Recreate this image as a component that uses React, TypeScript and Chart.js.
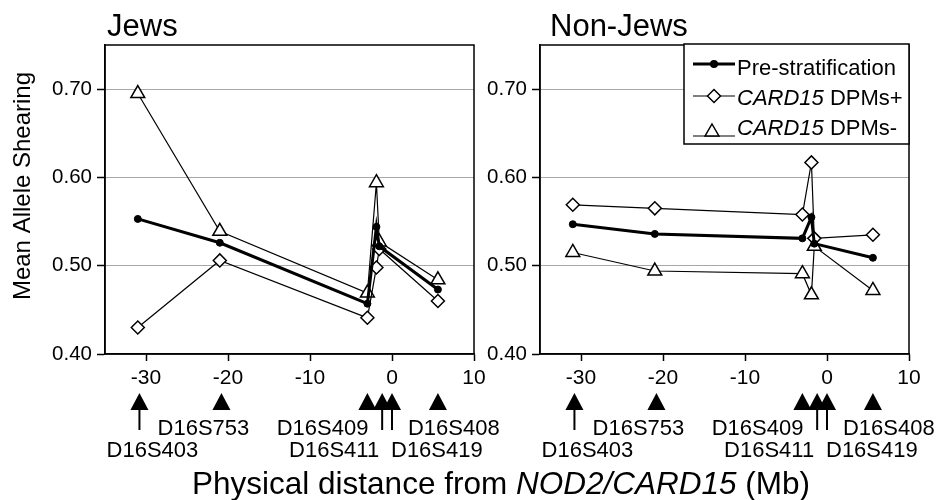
import React, { useEffect, useRef } from 'react';
import { Chart, registerables } from 'chart.js';

Chart.register(...registerables);

const FONT = '"Liberation Sans", Arial, Helvetica, sans-serif';

// ---- data ----
const xPositions = [-31, -21, -3, -1.9, -1.55, 5.6];

const jewsPre = [0.553, 0.526, 0.457, 0.544, 0.522, 0.473];
const jewsPlus = [0.43, 0.506, 0.441, 0.498, 0.519, 0.46];
const jewsMinus = [0.695, 0.539, 0.469, 0.594, 0.527, 0.484];

const nonJewsPre = [0.547, 0.536, 0.531, 0.555, 0.525, 0.509];
const nonJewsPlus = [0.569, 0.565, 0.558, 0.617, 0.531, 0.535];
const nonJewsMinus = [0.515, 0.494, 0.491, 0.467, 0.522, 0.472];

const markerNames = ['D16S403', 'D16S753', 'D16S409', 'D16S411', 'D16S419', 'D16S408'];
const markerPositions = [-30.8, -20.8, -3, -1.2, 0, 5.6];
const markerArrows = [true, false, false, true, true, false];

const xTicks = [-30, -20, -10, 0, 10];
const yTicks = [0.4, 0.5, 0.6, 0.7];

const seriesNames = ['Pre-stratification', 'CARD15 DPMs+', 'CARD15 DPMs-'];
const panelTitles = ['Jews', 'Non-Jews'];
const yTitle = 'Mean Allele Shearing';
const xTitleParts = ['Physical distance from ', 'NOD2/CARD15', ' (Mb)'];

// ---- layout (pixels) ----
const W = 938;
const H = 500;
const labelLayout = [
  { row: 1, align: 'center', dx: 13 },
  { row: 0, align: 'center', dx: -18 },
  { row: 0, align: 'right', dx: 1 },
  { row: 1, align: 'right', dx: -3 },
  { row: 1, align: 'left', dx: -1 },
  { row: 0, align: 'left', dx: -30 },
];

type Panel = {
  title: string;
  titleDx: number;
  pre: number[];
  plus: number[];
  minus: number[];
  padding: { left: number; right: number; top: number; bottom: number };
  yWidth: number;
  legend: boolean;
  axisTitles: boolean;
};

function triPath(ctx: CanvasRenderingContext2D, x: number, y: number, r: number) {
  ctx.beginPath();
  ctx.moveTo(x, y - r);
  ctx.lineTo(x + 0.866 * r, y + 0.5 * r);
  ctx.lineTo(x - 0.866 * r, y + 0.5 * r);
  ctx.closePath();
}
function diamondPath(ctx: CanvasRenderingContext2D, x: number, y: number, r: number) {
  ctx.beginPath();
  ctx.moveTo(x - r, y);
  ctx.lineTo(x, y - r);
  ctx.lineTo(x + r, y);
  ctx.lineTo(x, y + r);
  ctx.closePath();
}

function drawRich(ctx: CanvasRenderingContext2D, parts: { t: string; italic: boolean }[], size: number, x: number, y: number, center: boolean) {
  let total = 0;
  const widths = parts.map((p) => {
    ctx.font = `${p.italic ? 'italic ' : ''}${size}px ${FONT}`;
    const w = ctx.measureText(p.t).width;
    total += w;
    return w;
  });
  let cx = center ? x - total / 2 : x;
  parts.forEach((p, i) => {
    ctx.font = `${p.italic ? 'italic ' : ''}${size}px ${FONT}`;
    ctx.fillText(p.t, cx, y);
    cx += widths[i];
  });
}

function decorPlugin(panel: Panel) {
  return {
    id: 'panelDecor',
    afterDatasetsDraw(chart: any) {
      const { ctx, chartArea: a } = chart;
      ctx.save();
      // frame
      ctx.strokeStyle = '#000';
      ctx.lineWidth = 1.5;
      ctx.strokeRect(a.left, a.top, a.right - a.left, a.bottom - a.top);
      if (panel.legend) {
        const L = a.right - 225;
        const T = a.top - 1;
        ctx.fillStyle = '#fff';
        ctx.fillRect(L, T, 225, 100);
        ctx.strokeRect(L, T, 225, 100);
        ctx.fillStyle = '#000';
        ctx.strokeStyle = '#000';
        // row 1
        ctx.lineWidth = 3;
        ctx.beginPath();
        ctx.moveTo(L + 9, T + 20);
        ctx.lineTo(L + 51, T + 20);
        ctx.stroke();
        ctx.beginPath();
        ctx.arc(L + 30, T + 20, 4, 0, Math.PI * 2);
        ctx.fill();
        // row 2
        ctx.lineWidth = 1.2;
        ctx.beginPath();
        ctx.moveTo(L + 9, T + 52);
        ctx.lineTo(L + 51, T + 52);
        ctx.stroke();
        ctx.lineWidth = 1.5;
        diamondPath(ctx, L + 30, T + 52, 6.5);
        ctx.fillStyle = '#fff';
        ctx.fill();
        ctx.stroke();
        // row 3
        ctx.lineWidth = 1.2;
        ctx.beginPath();
        ctx.moveTo(L + 9, T + 92);
        ctx.lineTo(L + 51, T + 92);
        ctx.stroke();
        ctx.lineWidth = 1.5;
        triPath(ctx, L + 28, T + 88, 8);
        ctx.fill();
        ctx.stroke();
        // text
        ctx.fillStyle = '#000';
        ctx.textAlign = 'left';
        ctx.textBaseline = 'alphabetic';
        const [n1, n2, n3] = seriesNames;
        drawRich(ctx, [{ t: n1, italic: false }], 22, L + 53, T + 31, false);
        const sp2 = n2.indexOf(' ');
        drawRich(ctx, [{ t: n2.slice(0, sp2), italic: true }, { t: n2.slice(sp2), italic: false }], 22, L + 53, T + 61, false);
        const sp3 = n3.indexOf(' ');
        drawRich(ctx, [{ t: n3.slice(0, sp3), italic: true }, { t: n3.slice(sp3), italic: false }], 22, L + 53, T + 90.5, false);
      }
      ctx.restore();
    },
    afterDraw(chart: any) {
      const { ctx, chartArea: a, scales } = chart;
      const x = scales.x;
      ctx.save();
      ctx.fillStyle = '#000';
      ctx.strokeStyle = '#000';
      // panel title
      ctx.textAlign = 'left';
      ctx.textBaseline = 'alphabetic';
      ctx.font = `31px ${FONT}`;
      ctx.fillText(panel.title, a.left + panel.titleDx, 36);
      // marker annotations
      const b = a.bottom;
      markerNames.forEach((name, i) => {
        const px = x.getPixelForValue(markerPositions[i]);
        ctx.beginPath();
        ctx.moveTo(px, b + 39);
        ctx.lineTo(px + 9, b + 56);
        ctx.lineTo(px - 9, b + 56);
        ctx.closePath();
        ctx.fill();
        if (markerArrows[i]) {
          ctx.lineWidth = 2;
          ctx.beginPath();
          ctx.moveTo(px, b + 55);
          ctx.lineTo(px, b + 76);
          ctx.stroke();
        }
        const lay = labelLayout[i];
        ctx.font = `22px ${FONT}`;
        ctx.textAlign = lay.align as CanvasTextAlign;
        ctx.fillText(name, px + lay.dx, b + (lay.row === 0 ? 81 : 103));
      });
      if (panel.axisTitles) {
        // y title
        ctx.save();
        ctx.translate(23, 186);
        ctx.rotate(-Math.PI / 2);
        ctx.textAlign = 'center';
        ctx.textBaseline = 'middle';
        ctx.font = `24px ${FONT}`;
        ctx.fillText(yTitle, 0, 0);
        ctx.restore();
        // x title
        ctx.textAlign = 'left';
        ctx.textBaseline = 'alphabetic';
        drawRich(
          ctx,
          [
            { t: xTitleParts[0], italic: false },
            { t: xTitleParts[1], italic: true },
            { t: xTitleParts[2], italic: false },
          ],
          31.5,
          501,
          494,
          true
        );
      }
      ctx.restore();
    },
  };
}

function makeConfig(panel: Panel): any {
  const pts = (arr: number[]) => xPositions.map((xv, i) => ({ x: xv, y: arr[i] }));
  return {
    type: 'line',
    data: {
      datasets: [
        {
          label: seriesNames[0],
          data: pts(panel.pre),
          borderColor: '#000',
          borderWidth: 3,
          pointStyle: 'circle',
          pointRadius: 3.5,
          pointBackgroundColor: '#000',
          pointBorderColor: '#000',
          pointBorderWidth: 1,
          tension: 0,
        },
        {
          label: seriesNames[1],
          data: pts(panel.plus),
          borderColor: '#000',
          borderWidth: 1.2,
          pointStyle: 'rectRot',
          pointRadius: 6.5,
          pointBackgroundColor: '#fff',
          pointBorderColor: '#000',
          pointBorderWidth: 1.5,
          tension: 0,
        },
        {
          label: seriesNames[2],
          data: pts(panel.minus),
          borderColor: '#000',
          borderWidth: 1.2,
          pointStyle: 'triangle',
          pointRadius: 8,
          pointBackgroundColor: '#fff',
          pointBorderColor: '#000',
          pointBorderWidth: 1.5,
          tension: 0,
        },
      ],
    },
    options: {
      responsive: false,
      animation: false,
      events: [],
      layout: { autoPadding: false, padding: panel.padding },
      plugins: {
        legend: { display: false },
        tooltip: { enabled: false },
        title: { display: false },
      },
      scales: {
        x: {
          type: 'linear',
          min: -35,
          max: 10,
          afterBuildTicks: (s: any) => {
            s.ticks = xTicks.map((v) => ({ value: v }));
          },
          afterFit: (s: any) => {
            s.height = H - 354;
          },
          grid: { drawOnChartArea: false, tickLength: 7, tickColor: '#000', tickWidth: 1.5 },
          border: { color: '#000', width: 1.5 },
          ticks: {
            color: '#000',
            font: { size: 21, family: FONT },
            padding: 5,
            maxRotation: 0,
            autoSkip: false,
          },
        },
        y: {
          type: 'linear',
          min: 0.4,
          max: 0.75,
          afterBuildTicks: (s: any) => {
            s.ticks = yTicks.map((v) => ({ value: v }));
          },
          afterFit: (s: any) => {
            s.width = panel.yWidth;
          },
          grid: {
            color: (c: any) => (c.tick && c.tick.value > 0.41 ? '#a8a8a8' : 'rgba(0,0,0,0)'),
            lineWidth: 1,
            tickColor: '#000',
            tickWidth: 1.5,
            tickLength: 8,
          },
          border: { color: '#000', width: 1.5 },
          ticks: {
            color: '#000',
            font: { size: 20.5, family: FONT },
            padding: 5,
            callback: (v: any) => Number(v).toFixed(2),
          },
        },
      },
    },
    plugins: [decorPlugin(panel)],
  };
}

const panels: Panel[] = [
  {
    title: panelTitles[0],
    titleDx: 2,
    pre: jewsPre,
    plus: jewsPlus,
    minus: jewsMinus,
    padding: { left: 0, right: W - 474, top: 45, bottom: 0 },
    yWidth: 105,
    legend: false,
    axisTitles: true,
  },
  {
    title: panelTitles[1],
    titleDx: 10,
    pre: nonJewsPre,
    plus: nonJewsPlus,
    minus: nonJewsMinus,
    padding: { left: 470, right: W - 909, top: 45, bottom: 0 },
    yWidth: 70,
    legend: true,
    axisTitles: false,
  },
];

export default function App() {
  const ref1 = useRef<HTMLCanvasElement>(null);
  const ref2 = useRef<HTMLCanvasElement>(null);
  useEffect(() => {
    Chart.defaults.font.family = FONT;
    const c1 = new Chart(ref1.current as HTMLCanvasElement, makeConfig(panels[0]));
    const c2 = new Chart(ref2.current as HTMLCanvasElement, makeConfig(panels[1]));
    return () => {
      c1.destroy();
      c2.destroy();
    };
  }, []);
  const cs: React.CSSProperties = { position: 'absolute', left: 0, top: 0, width: W, height: H };
  return (
    <div style={{ position: 'absolute', left: 0, top: 0, width: W, height: H, background: '#fff', overflow: 'hidden' }}>
      <canvas ref={ref1} width={W} height={H} style={cs} />
      <canvas ref={ref2} width={W} height={H} style={cs} />
    </div>
  );
}
